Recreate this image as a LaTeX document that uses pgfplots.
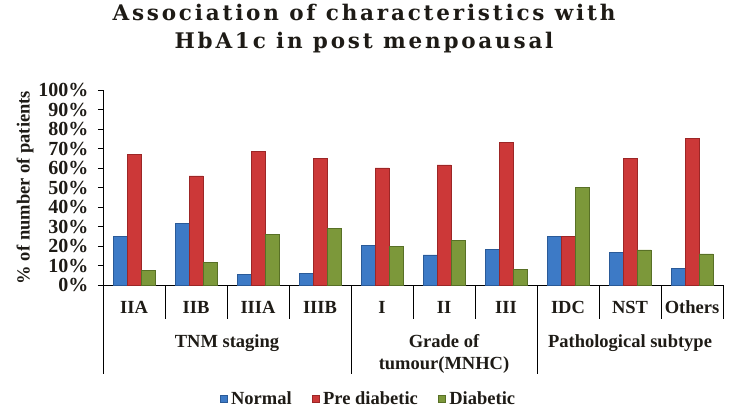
\documentclass[border=0pt]{standalone}
\usepackage{pgfplots}
\pgfplotsset{compat=1.18}
\usepackage{fontspec}
\setmainfont{Liberation Serif}
\newfontfamily\titlefamily{DejaVu Serif}[LetterSpace=13]
\definecolor{textc}{HTML}{1E1B16}
\definecolor{blueM}{HTML}{3D7AC6}
\definecolor{blueD}{HTML}{2A5A98}
\definecolor{redM}{HTML}{CC3838}
\definecolor{redD}{HTML}{9C2626}
\definecolor{greenM}{HTML}{7C983A}
\definecolor{greenD}{HTML}{587026}
\newcommand\lab{\fontsize{18.5bp}{22bp}\selectfont\bfseries}
\newcommand\tlab{\fontsize{20bp}{24bp}\selectfont\bfseries}
\newcommand\titlef{\titlefamily\fontsize{21.5bp}{26bp}\selectfont\bfseries}
\pgfplotsset{myleg/.style={legend image code/.code={\path[##1] (0bp,-3.5bp) rectangle (7bp,3.5bp);}}}
\begin{document}
\begin{tikzpicture}
\useasboundingbox (0,0) rectangle (732bp,408bp);
\node[anchor=base, font=\titlef, text=textc] at (364bp,387bp) {Association of characteristics with};
\node[anchor=base, font=\titlef, text=textc] at (364bp,359bp) {HbA1c in post menpoausal};
\begin{axis}[
  at={(103bp,123bp)}, anchor=south west,
  width=620bp, height=195bp, scale only axis,
  xmin=-0.5, xmax=9.5, ymin=0, ymax=100,
  axis x line=bottom, axis y line=left,
  axis line style={-, black, line width=0.8bp},
  xtick={0,...,9},
  xticklabels={IIA,IIB,IIIA,IIIB,I,II,III,IDC,NST,Others},
  x tick style={draw=none},
  xticklabel style={anchor=base, yshift=-23bp, font=\lab},
  ytick={0,10,...,100},
  yticklabels={0\%,10\%,20\%,30\%,40\%,50\%,60\%,70\%,80\%,90\%,100\%},
  y tick style={black, line width=0.8bp},
  yticklabel style={font=\tlab, xshift=-6bp},
  tick align=outside, major tick length=5bp,
  tick label style={text=textc},
  ylabel={\% of number of patients},
  every axis y label/.style={at={(axis description cs:0,0.5)}, rotate=90, anchor=center, yshift=78bp, font=\lab, text=textc},
  ybar=0pt, bar width=14bp,
  clip=false,
  legend style={at={(axis description cs:0.428,-0.585)}, anchor=center, legend columns=3, draw=none, fill=none, font=\lab, text=textc,
    /tikz/every even column/.append style={column sep=18bp},
    /tikz/every odd column/.append style={column sep=2bp}},
]
\addplot[myleg, draw=blueD, line width=0.5bp, fill=blueM] coordinates {
(0,25) (1,31.6) (2,5.3) (3,5.9) (4,20.2) (5,15.5) (6,18.2) (7,25) (8,16.7) (9,8.4)};
\addplot[myleg, draw=redD, line width=0.5bp, fill=redM] coordinates {
(0,66.9) (1,56) (2,68.5) (3,64.9) (4,60.1) (5,61.6) (6,73) (7,25) (8,64.8) (9,75)};
\addplot[myleg, draw=greenD, line width=0.5bp, fill=greenM] coordinates {
(0,7.6) (1,11.7) (2,26) (3,29.1) (4,19.7) (5,23) (6,8) (7,50) (8,18) (9,16)};
\legend{Normal,Pre diabetic,Diabetic}
\pgfplotsinvokeforeach{0.5,1.5,2.5,4.5,5.5,7.5,8.5,9.5}{
  \draw[black, line width=0.8bp] (axis cs:#1,0) -- ([yshift=-34bp]axis cs:#1,0);
}
\pgfplotsinvokeforeach{-0.5,3.5,6.5}{
  \draw[black, line width=0.8bp] (axis cs:#1,0) -- ([yshift=-89bp]axis cs:#1,0);
}
\node[anchor=base, font=\lab, text=textc, yshift=-62bp] at (axis cs:1.5,0) {TNM staging};
\node[anchor=base, font=\lab, text=textc, yshift=-62bp] at (axis cs:5,0) {Grade of};
\node[anchor=base, font=\lab, text=textc, yshift=-84bp] at (axis cs:5,0) {tumour(MNHC)};
\node[anchor=base, font=\lab, text=textc, yshift=-62bp] at (axis cs:8,0) {Pathological subtype};
\end{axis}
\end{tikzpicture}
\end{document}
